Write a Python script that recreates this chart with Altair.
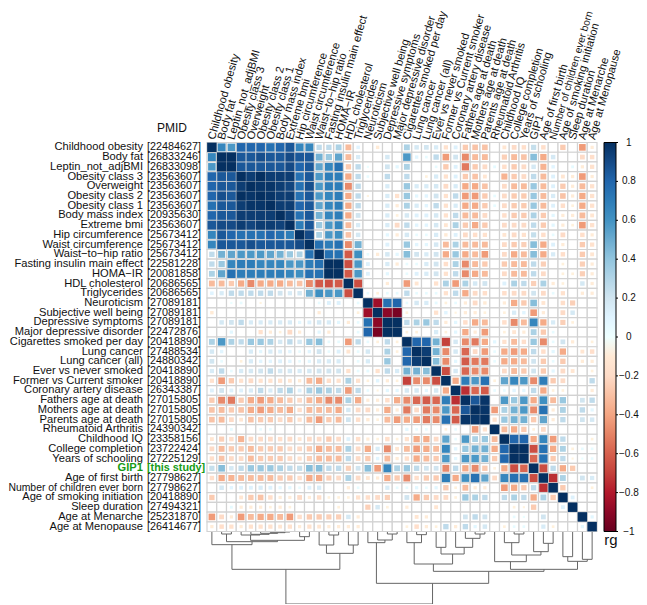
import altair as alt
import pandas as pd

traits = ["Childhood obesity","Body fat","Leptin_not_adjBMI","Obesity class 3","Overweight","Obesity class 2","Obesity class 1","Body mass index","Extreme bmi","Hip circumference","Waist circumference","Waist\u2212to\u2212hip ratio","Fasting insulin main effect","HOMA\u2212IR","HDL cholesterol","Triglycerides","Neuroticism","Subjective well being","Depressive symptoms","Major depressive disorder","Cigarettes smoked per day","Lung cancer","Lung cancer (all)","Ever vs never smoked","Former vs Current smoker","Coronary artery disease","Fathers age at death","Mothers age at death","Parents age at death","Rheumatoid Arthritis","Childhood IQ","College completion","Years of schooling","GIP1","Age of first birth","Number of children ever born","Age of smoking initiation","Sleep duration","Age at Menarche","Age at Menopause"]
pmids = ["22484627","26833246","26833098","23563607","23563607","23563607","23563607","20935630","23563607","25673412","25673412","25673412","22581228","20081858","20686565","20686565","27089181","27089181","27089181","22472876","20418890","27488534","24880342","20418890","20418890","26343387","27015805","27015805","27015805","24390342","23358156","23722424","27225129","this study","27798627","27798627","20418890","27494321","25231870","26414677"]

# upper triangle of the genetic correlation matrix, each row starting at its diagonal
upper = [
[1,.66,.58,.8,.8,.8,.75,.8,.85,.66,.66,.26,.26,.32,-.32,.1,0,-.09,0,0,.32,.17,.19,.15,-.15,.12,-.26,-.29,-.29,0,-.12,-.2,-.17,.24,-.17,0,-.26,0,-.43,-.08],
[1,1,.85,.85,.88,.85,.85,.9,.85,.85,.48,.38,.53,-.32,.15,0,0,.17,0,.58,.09,.05,.26,-.43,.2,-.48,-.32,-.32,0,-.24,-.32,-.29,.43,-.38,.17,0,0,-.2,-.17],
[1,.85,.85,.85,.85,.85,.9,.8,.85,.53,.66,.75,-.26,.26,.03,0,.2,.08,.32,0,0,.05,-.26,.12,-.53,-.26,-.2,.06,-.17,-.26,-.2,.17,-.35,.09,0,.06,-.08,-.15],
[1,.95,1,.95,.95,.95,.75,.85,.58,.7,.7,-.38,.26,.05,0,.26,0,.26,0,-.05,.15,-.15,.12,-.26,-.29,-.12,0,-.35,-.26,-.2,.26,-.32,.12,-.12,-.08,-.43,-.08],
[1,.98,.98,.95,.92,.75,.88,.58,.7,.7,-.48,.26,0,0,.15,0,.38,.15,.15,.17,-.2,.15,-.38,-.38,-.29,0,-.2,-.32,-.32,.38,-.32,.12,-.26,-.08,-.32,-.15],
[1,.98,.95,.95,.75,.85,.58,.66,.7,-.38,.26,-.03,0,.15,-.15,.38,.08,.09,.2,-.15,.26,-.43,-.43,-.26,.05,-.2,-.26,-.26,.38,-.32,.15,-.29,-.08,-.38,-.15],
[1,.95,.95,.8,.85,.53,.66,.7,-.38,.26,0,0,.15,-.08,.32,.15,.09,.26,-.15,.15,-.38,-.38,-.26,.05,-.2,-.26,-.26,.38,-.32,.12,-.17,-.05,-.38,-.15],
[1,.93,.75,.85,.48,.66,.7,-.38,.2,0,0,.15,-.05,.17,.12,.12,.17,-.15,.26,-.32,-.32,-.2,0,-.17,-.26,-.26,.32,-.26,.08,-.08,-.08,-.32,-.12],
[1,.7,.85,.38,.58,.66,-.32,.15,0,0,.15,-.2,.26,.09,.09,.17,-.12,.32,-.26,-.38,-.26,0,-.2,-.2,-.2,.26,-.26,.08,-.08,-.05,-.43,-.15],
[1,.9,.32,.58,.62,-.29,.17,0,0,.08,-.08,.17,.05,.05,.15,-.09,.12,-.2,-.17,-.15,0,-.12,-.2,-.15,.24,-.17,.05,-.2,0,-.17,-.08],
[1,.75,.7,.75,-.48,.48,0,0,.12,0,.38,.09,.08,.17,-.32,.32,-.32,-.32,-.32,0,-.2,-.26,-.24,.43,-.38,.12,-.08,0,-.26,-.15],
[1,.75,.75,-.62,.62,.05,-.08,.17,.08,.43,.2,.15,.2,-.38,.38,-.38,-.32,-.43,0,-.2,-.38,-.32,.43,-.38,.15,-.17,0,-.26,-.12],
[1,1,-.66,.58,.12,0,.15,-.08,.05,.05,.15,.2,-.17,.32,-.48,-.32,-.26,0,-.26,-.32,-.32,.26,-.24,0,-.05,0,-.24,-.08],
[1,-.62,.58,.12,0,.08,0,.05,.12,.15,.2,-.15,.26,-.48,-.38,-.32,0,-.2,-.32,-.32,.26,-.2,0,-.05,-.05,-.24,-.08],
[1,-.66,0,0,-.08,0,-.43,-.12,0,-.15,.32,-.43,.32,.17,.2,0,.12,.32,.26,-.24,.32,-.08,-.05,0,.17,-.08],
[1,.05,-.05,.05,.05,.26,.05,.05,.05,-.15,.26,-.38,-.2,-.17,0,-.17,-.2,-.2,.2,-.2,.05,-.15,0,-.08,-.08],
[1,-.85,.75,.8,.05,.17,.15,.06,-.05,.05,-.08,-.2,-.09,0,-.08,-.38,-.26,.43,-.12,0,-.17,-.24,0,0],
[1,-.9,-.95,-.05,0,0,-.15,.09,-.03,-.08,-.08,-.05,0,-.05,.15,.09,-.43,-.08,0,-.2,.17,0,0],
[1,1,.26,.32,.38,.26,-.08,.08,-.17,-.38,-.32,0,-.17,-.48,-.32,.66,-.38,.15,-.24,-.05,0,0],
[1,-.05,-.05,0,.15,-.05,.08,-.38,-.08,-.43,0,-.05,-.12,-.08,.32,-.26,.05,0,0,0,0],
[1,.8,.8,.48,-.7,.17,-.48,-.53,-.38,.08,-.15,-.32,-.17,.38,-.48,.05,.2,-.08,0,-.05],
[1,.95,.48,-.48,.17,-.58,-.2,-.43,.05,-.38,-.43,-.38,.26,-.17,.08,-.38,0,-.12,-.17],
[1,.43,-.48,.08,-.62,-.53,-.53,.05,-.38,-.38,-.32,.2,-.26,.05,-.26,0,-.08,-.08],
[1,-.66,.17,-.58,-.48,-.48,0,-.2,-.32,-.26,.2,-.26,.08,-.2,-.12,0,-.05],
[1,-.38,.7,.58,.75,-.05,.53,.66,.58,-.48,.7,-.26,-.2,0,0,.26],
[1,-.75,-.58,-.62,.05,.05,.09,.08,.26,-.38,-.05,-.05,0,0,-.08],
[1,.85,.98,0,.58,.38,.58,-.38,.62,-.32,.38,0,.2,.26],
[1,.98,-.43,.32,.48,.58,-.48,.75,-.08,.32,0,.26,.08],
[1,-.15,.38,.48,.48,-.26,.53,-.08,.26,0,.2,.17],
[1,-.32,-.38,-.26,-.05,-.2,0,0,0,0,0],
[1,.8,.8,-.38,.66,-.43,.26,0,0,-.05],
[1,1,-.66,.75,-.38,.32,-.05,.05,.05],
[1,-.58,.75,-.26,.26,-.03,.03,.05],
[1,-.66,.26,-.38,-.26,0,0],
[1,-.75,.32,0,.2,.15],
[1,-.26,0,0,-.05],
[1,.12,0,0],
[1,0,0],
[1,.08],
[1],
]

# dendrogram: (merge height, left child, right child); integers are leaves
tree = (222,
  (118,
    (44, 0, (35, (12, 1, 2), (31, (15, 3, (13, 4, (10, 5, (8, 6, (6, 7, 8))))), (20, 9, 10)))),
    (70, (45, 11, (15, 12, 13)), (45, 14, 15))),
  (160,
    (38, 16, (30, 17, (12, 18, 19))),
    (124,
      (102,
        (38, 20, (14, 21, 22)),
        (72, (52, 23, 24), (52, 25, (25, 26, (12, 27, 28))))),
      (118,
        (95, 29, (75, (38, 30, (12, 31, 32)), (65, 33, (40, 34, 35)))),
        (94, (80, 36, 37), (88, 38, 39))))))

stops = [-1,-.8,-.6,-.4,-.2,0,.2,.4,.6,.8,1]
stop_colors = ["#67001F","#B2182B","#D6604D","#F4A582","#FDDBC7","#FFFFFF","#D1E5F0","#92C5DE","#4393C3","#2166AC","#053061"]

FONT = "Liberation Sans"
N = len(traits)

rows = []
for i, r in enumerate(upper):
    assert len(r) == N - i, (i, len(r))
    for k, v in enumerate(r):
        j = i + k
        rows.append(dict(col=j, row=i, rg=v, mag=abs(v)))
        if j != i:
            rows.append(dict(col=i, row=j, rg=v, mag=abs(v)))
cells = pd.DataFrame(rows)
cells["c0"] = cells.col - .5
cells["c1"] = cells.col + .5
cells["r0"] = cells.row - .5
cells["r1"] = cells.row + .5

segs = []
def walk(n):
    if isinstance(n, int):
        return float(n), 0
    h, a, b = n
    xa, ha = walk(a)
    xb, hb = walk(b)
    segs.append(dict(x1=xa, x2=xa, y1=ha, y2=h))
    segs.append(dict(x1=xb, x2=xb, y1=hb, y2=h))
    segs.append(dict(x1=xa, x2=xb, y1=h, y2=h))
    return (xa + xb) / 2, h
walk(tree)
dendro = pd.DataFrame(segs)

labels = pd.DataFrame(dict(trait=traits, pmid=["[%s]" % p for p in pmids], idx=list(range(N))))
long_name = "Number of children ever born"
plain = labels[(labels.trait != "GIP1") & (labels.trait != long_name)]
long_row = labels[labels.trait == long_name]
hi = labels[labels.trait == "GIP1"]
pm_plain = labels[labels.trait != "GIP1"]
top_plain = labels[labels.trait != long_name]

xs = alt.Scale(domain=[-.5, 39.5], nice=False, zero=False)
ys = alt.Scale(domain=[-.5, 39.5], nice=False, zero=False, reverse=True)
X = lambda f: alt.X(f, scale=xs, axis=None)
Y = lambda f: alt.Y(f, scale=ys, axis=None)

d_layer = alt.Chart(dendro).mark_rule(color="#666666", strokeWidth=1).encode(
    x=X("x1:Q"), x2="x2:Q",
    y=alt.Y("y1:Q", scale=alt.Scale(domain=[0, 225], range=[387.5, 462.5], nice=False, zero=False), axis=None),
    y2="y2:Q")

grid = alt.Chart(cells).mark_rect(fill="white", stroke="#d2d2d2", strokeWidth=1.2).encode(
    x=X("c0:Q"), x2="c1:Q", y=Y("r0:Q"), y2="r1:Q")

squares = alt.Chart(cells).mark_square(opacity=1, strokeWidth=0).encode(
    x=X("col:Q"), y=Y("row:Q"),
    size=alt.Size("mag:Q", scale=alt.Scale(type="pow", exponent=.85, domain=[0, 1], range=[0, 90]), legend=None),
    color=alt.Color("rg:Q", scale=alt.Scale(domain=stops, range=stop_colors),
        legend=alt.Legend(title=None, orient="none", legendX=397, legendY=0, direction="vertical",
            gradientLength=389, gradientThickness=12, gradientStrokeColor="black", gradientStrokeWidth=1,
            values=stops, labelExpr="''")))

name_kw = dict(font=FONT, fontSize=11.15, color="#111111", align="right", baseline="middle")
pm_kw = dict(font=FONT, fontSize=10.8, color="#111111", align="left", baseline="middle")
names = alt.Chart(plain).mark_text(**name_kw).encode(x=alt.value(-64), y=Y("idx:Q"), text="trait:N")
names_long = alt.Chart(long_row).mark_text(**{**name_kw, "fontSize": 10.4}).encode(x=alt.value(-64), y=Y("idx:Q"), text="trait:N")
pms = alt.Chart(pm_plain).mark_text(**pm_kw).encode(x=alt.value(-60), y=Y("idx:Q"), text="pmid:N")
green = "#169B16"
names_h = alt.Chart(hi).mark_text(**{**name_kw, "color": green, "fontWeight": "bold"}).encode(x=alt.value(-64), y=Y("idx:Q"), text="trait:N")
pms_h = alt.Chart(hi).mark_text(**{**pm_kw, "color": green, "fontWeight": "bold"}).encode(x=alt.value(-60), y=Y("idx:Q"), text="pmid:N")

top_kw = dict(font=FONT, fontSize=11.15, color="#111111", align="left", baseline="middle", angle=286)
tops = alt.Chart(top_plain).mark_text(**top_kw).encode(x=X("idx:Q"), y=alt.value(-3), text="trait:N")
tops_long = alt.Chart(long_row).mark_text(**{**top_kw, "fontSize": 10.3}).encode(x=X("idx:Q"), y=alt.value(-3), text="trait:N")

pmid_head = alt.Chart(pd.DataFrame(dict(t=["PMID"]))).mark_text(font=FONT, fontSize=12, color="#111111", align="center", baseline="middle").encode(
    x=alt.value(-35), y=alt.value(-15), text="t:N")
rg_label = alt.Chart(pd.DataFrame(dict(t=["rg"]))).mark_text(font=FONT, fontSize=15, color="#111111", align="center", baseline="middle").encode(
    x=alt.value(404), y=alt.value(397), text="t:N")

bar_y = alt.Y("v:Q", scale=alt.Scale(domain=[-1, 1], range=[389, 0], nice=False, zero=False), axis=None)
ticks = alt.Chart(pd.DataFrame(dict(v=stops))).mark_rule(color="black", strokeWidth=1).encode(
    x=alt.value(409), x2=alt.value(411), y=bar_y)
bar_labels = alt.Chart(pd.DataFrame(dict(v=stops))).mark_text(font=FONT, fontSize=10, color="#111111", align="center", baseline="middle").encode(
    x=alt.value(421.9), y=bar_y, text=alt.Text("v:Q", format=".1~f"))

chart = alt.layer(d_layer, grid, squares, names, names_long, pms, names_h, pms_h, tops, tops_long, pmid_head, rg_label, ticks, bar_labels).resolve_scale(y="independent").properties(
    width=390, height=389,
    autosize=alt.AutoSizeParams(type="none"),
    padding={"left": 199, "top": 134.5, "right": 42, "bottom": 72},
).configure_view(stroke=None)

chart.save("out.html", embed_options={"renderer": "svg", "actions": False})
